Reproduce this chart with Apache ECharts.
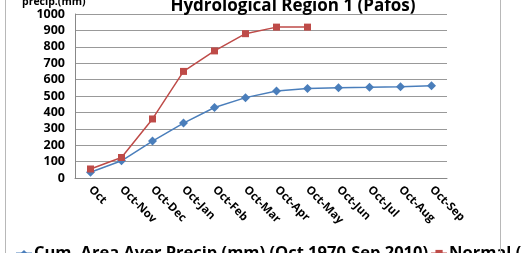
<!DOCTYPE html>
<html>
<head>
<meta charset="utf-8">
<script src="https://cdn.jsdelivr.net/npm/echarts@6/dist/echarts.min.js"></script>
<style>
  html, body { margin: 0; padding: 0; background: #fff; }
  #wrap { position: relative; width: 521px; height: 253px; }
  #chart { width: 521px; height: 253px; }
  /* chart frame, only the left and right edges are visible in the crop */
  #frame { position: absolute; left: 5px; top: -2px; width: 494px; height: 260px;
           border: 1px solid #b8b8b8; pointer-events: none; }
</style>
</head>
<body>
<div id="wrap">
  <div id="chart"></div>
  <div id="frame"></div>
</div>
<script>
var months = ['Oct', 'Oct-Nov', 'Oct-Dec', 'Oct-Jan', 'Oct-Feb', 'Oct-Mar', 'Oct-Apr', 'Oct-May', 'Oct-Jun', 'Oct-Jul', 'Oct-Aug', 'Oct-Sep'];
var cumAreaPrecip = [35, 105, 225, 335, 430, 490, 530, 545, 550, 553, 557, 562];
var normalPrecip = [55, 125, 360, 650, 775, 880, 920, 920];
var yTicks = [0, 100, 200, 300, 400, 500, 600, 700, 800, 900, 1000];

var FONT = 'Open Sans';

var myChart = echarts.init(document.getElementById('chart'));
var option = {
    animation: false,
    graphic: [
        { type: 'text', left: 22, top: -3, style: { text: 'precip.(mm)', font: 'bold 10.5px ' + FONT, fill: '#000' } }
    ],
    title: {
        text: 'Hydrological Region 1 (Pafos)',
        left: 288, top: -7, textAlign: 'center',
        textStyle: { fontFamily: FONT, fontWeight: 'bold', fontSize: 17, color: '#000' }
    },
    legend: {
        left: 10, top: 240, width: 900, itemGap: 2, itemWidth: 16, itemHeight: 9,
        textStyle: { fontFamily: FONT, fontWeight: 'bold', fontSize: 16.5, color: '#000', padding: [0, 0, 0, -3] },
        data: ['Cum. Area Aver Precip (mm) (Oct 1970-Sep 2010)', 'Normal (1961-1990)']
    },
    grid: { left: 75, right: 74, top: 14, bottom: 75 },
    xAxis: {
        type: 'category',
        data: months,
        axisLine: { lineStyle: { color: '#888' } },
        axisTick: { length: 5, lineStyle: { color: '#888' } },
        axisLabel: { rotate: -45, interval: 0, margin: 10, color: '#000', fontFamily: FONT, fontWeight: 'bold', fontSize: 11.5 }
    },
    yAxis: {
        type: 'value', min: 0, max: 1000, interval: 100,
        axisLine: { show: true, lineStyle: { color: '#888' } },
        axisTick: { show: false },
        splitLine: { lineStyle: { color: '#999' } },
        axisLabel: {
            color: '#000', fontFamily: FONT, fontWeight: 'bold', fontSize: 12.5, margin: 10,
            formatter: function (v) { return yTicks.indexOf(v) >= 0 ? String(v) : ''; }
        }
    },
    series: [
        {
            name: 'Cum. Area Aver Precip (mm) (Oct 1970-Sep 2010)',
            type: 'line', data: cumAreaPrecip,
            symbol: 'diamond', symbolSize: 9,
            itemStyle: { color: '#4a7ebb' }, lineStyle: { width: 1.5, color: '#4a7ebb' }
        },
        {
            name: 'Normal (1961-1990)',
            type: 'line', data: normalPrecip,
            symbol: 'rect', symbolSize: 7,
            itemStyle: { color: '#be4b48' }, lineStyle: { width: 1.5, color: '#be4b48' }
        }
    ]
};
myChart.setOption(option);
</script>
</body>
</html>
